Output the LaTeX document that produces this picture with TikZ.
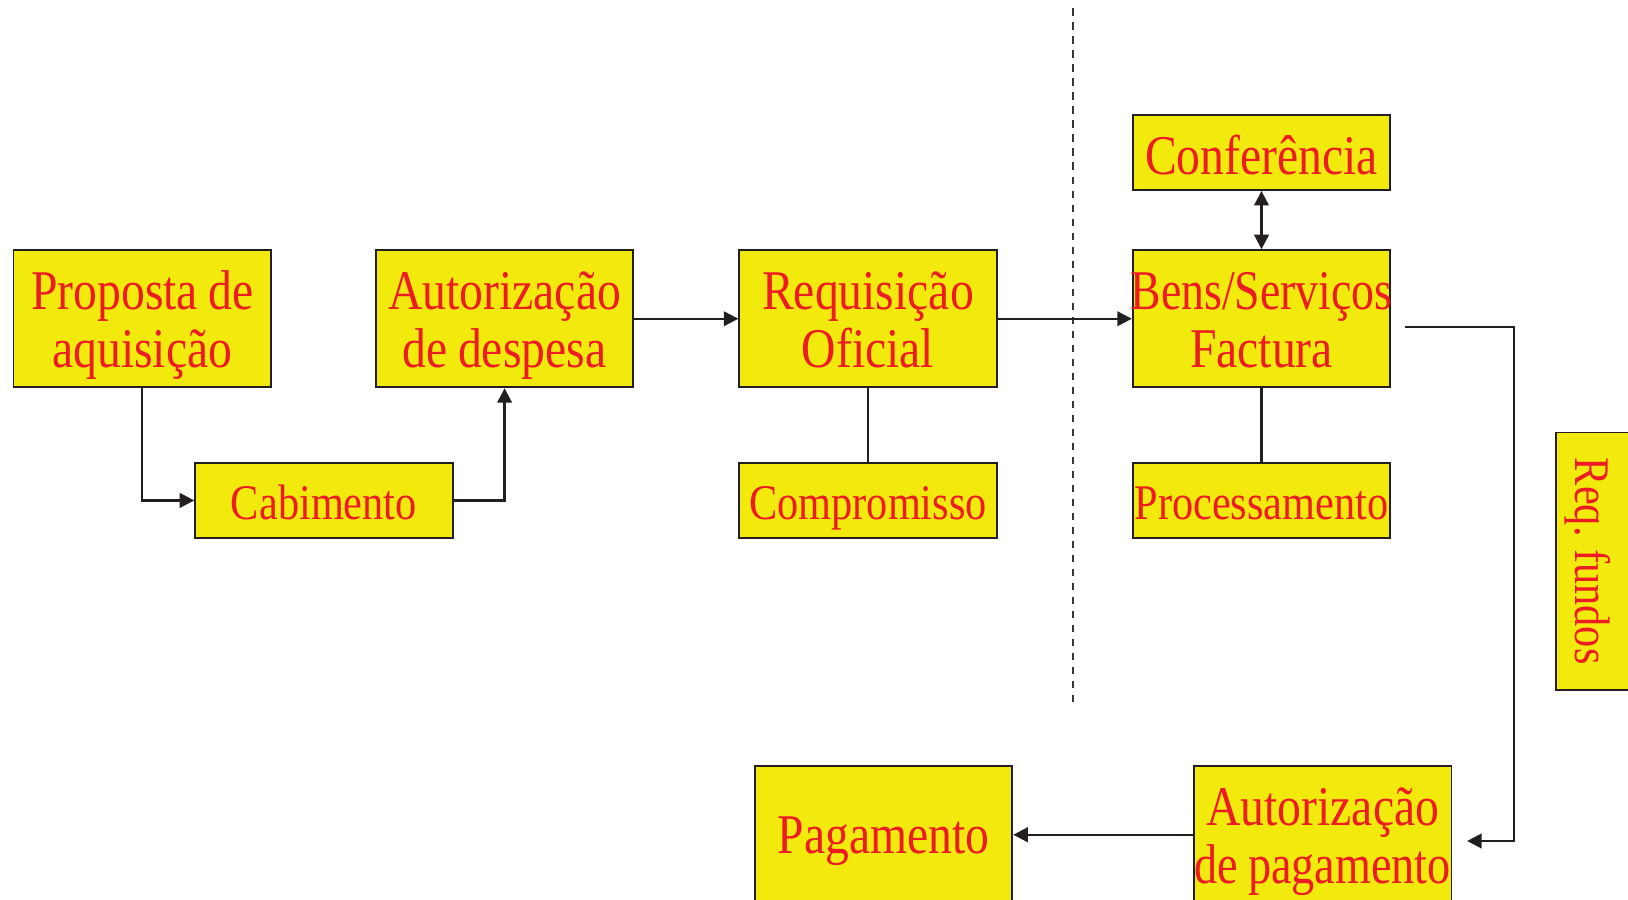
\documentclass[tikz,border=0pt]{standalone}
\usepackage{fontspec}
\setmainfont{Liberation Serif}[FakeStretch=0.85, WordSpace=0.85]
\usetikzlibrary{arrows.meta}
\definecolor{boxfill}{HTML}{F2EA0D}
\definecolor{boxtext}{HTML}{ED1C24}
\definecolor{boxline}{HTML}{231F20}
\tikzset{
  bigbox/.style={draw=boxline, line width=1.8pt, fill=boxfill, text=boxtext,
    minimum width=248pt, minimum height=132pt, inner sep=0pt,
    text width=248pt, align=flush center, text height=50pt, text depth=68pt,
    font=\fontsize{54}{56}\selectfont},
  oneline/.style={text height=48pt, text depth=12pt},
  smallbox/.style={bigbox, minimum height=72pt, text height=40pt, text depth=4pt,
    font=\fontsize{48}{50}\selectfont},
  link/.style={draw=boxline, line width=2.2pt},
  arr/.style={link, -{Triangle[length=14pt,width=14pt]}},
  dblarr/.style={link, {Triangle[length=14pt,width=14pt]}-{Triangle[length=14pt,width=14pt]}},
  divider/.style={draw=boxline!90, line width=1.9pt, dash pattern=on 7pt off 6.5pt}
}
\begin{document}
\begin{tikzpicture}[x=1pt, y=-1pt]
  \useasboundingbox (0,0) rectangle (1568,866);
  \clip (0,0) rectangle (1568,866);

  % upper row of process steps
  \node[bigbox] (prop) at (137,307) {Proposta de\\aquisição};
  \node[bigbox] (autd) at (486,307) {Autorização\\de despesa};
  \node[bigbox] (req)  at (836,307) {Requisição\\Oficial};
  \node[bigbox] (bens) at (1215,307) {\makebox[248pt]{\scalebox{0.96}[1]{Bens/Serviços}}\\Factura};
  \node[bigbox, minimum height=72pt, text height=46pt, text depth=4pt] (conf) at (1215,147) {Conferência};

  % side steps
  \node[smallbox] (cab)  at (312,482) {Cabimento};
  \node[smallbox] (comp) at (836,482) {Compromisso};
  \node[smallbox] (proc) at (1215,482) {Processamento};
  \node[smallbox, rotate=-90] (reqf) at (1535,540.5) {Req. fundos};

  % payment row
  \node[bigbox, oneline] (pag)  at (851,804) {Pagamento};
  \node[bigbox] (autp) at (1274,804) {Autorização\\\makebox[248pt]{\scalebox{0.97}[1]{de pagamento}}};

  % boundary between the two phases
  \draw[divider] (1033,8) -- (1033,677);

  % connectors
  \draw[arr] (prop.south) |- (cab.west);
  \draw[arr] (cab.east) -| (autd.south);
  \draw[arr] (autd.east) -- (req.west);
  \draw[arr] (req.east) -- (bens.west);
  \draw[dblarr] (conf.south) -- (bens.north);
  \draw[link] (req.south) -- (comp.north);
  \draw[link] (bens.south) -- (proc.north);

  \coordinate (fundsout) at (1353,315);
  \coordinate (fundsin) at (1413,810);
  \draw[arr] (fundsout) -- ++(105,0) |- (fundsin);
  \draw[arr] (autp.west) -- (pag.east);
\end{tikzpicture}
\end{document}
